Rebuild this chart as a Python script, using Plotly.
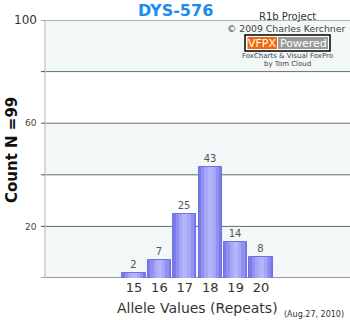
import plotly.graph_objects as go

alleles = [15, 16, 17, 18, 19, 20]
counts = [2, 7, 25, 43, 14, 8]
y_label_vals = [100, 60, 20]
grid_vals = [0, 20, 40, 60, 80, 100]
band_ranges = [(0, 20), (40, 60), (80, 100)]

W, H = 350, 320
L, R, T, B = 45, 0, 20, 42
pw, ph = W - L - R, H - T - B

def px(x):
    return (x - L) / pw

def py(y):
    return (H - B - y) / ph

FONT = "DejaVu Sans"
fig = go.Figure()

# fake gradient bars: layered
layers = [(0.92, "#7b7be8", "#7070e4"), (0.72, "#9090f2", None), (0.45, "#a6a6f7", None), (0.2, "#b4b4fa", None)]
for i, (w, c, lc) in enumerate(layers):
    fig.add_trace(go.Bar(
        x=alleles, y=counts, width=w,
        marker=dict(color=c, line=dict(color=lc or c, width=1 if lc else 0)),
        text=[str(v) for v in counts] if i == 0 else None,
        textposition="outside", cliponaxis=False,
        textfont=dict(family=FONT, size=10, color="#555555"),
        hoverinfo="skip", showlegend=False,
    ))

shapes = []
for a_, b_ in band_ranges:
    shapes.append(dict(type="rect", xref="paper", yref="y", x0=0, x1=1, y0=a_, y1=b_,
                       fillcolor="#f2f7f8", line=dict(width=0), layer="below"))
for v in grid_vals:
    shapes.append(dict(type="line", xref="paper", yref="y", x0=0, x1=1, y0=v, y1=v,
                       line=dict(color="#999999" if v == 0 else "#6a6a6a", width=2 if v == 0 else 1),
                       layer="below"))
    shapes.append(dict(type="line", xref="paper", yref="y", x0=px(41), x1=0, y0=v, y1=v,
                       line=dict(color="#555555", width=1)))
shapes.append(dict(type="line", xref="paper", yref="paper", x0=0, x1=0, y0=0, y1=1,
                   line=dict(color="#cccccc", width=1.5), layer="below"))
# badge
shapes.append(dict(type="rect", xref="paper", yref="paper", x0=px(245), x1=px(330), y0=py(51), y1=py(35),
                   fillcolor="#ffffff", line=dict(color="#000000", width=1.5)))
shapes.append(dict(type="rect", xref="paper", yref="paper", x0=px(247.5), x1=px(277), y0=py(49), y1=py(37),
                   fillcolor="#f26a10", line=dict(width=0)))
shapes.append(dict(type="rect", xref="paper", yref="paper", x0=px(278), x1=px(328), y0=py(49), y1=py(37),
                   fillcolor="#9a9a9a", line=dict(width=0)))

ann = []
def a(text, x, y, size, color="#333333", bold=False, xanchor="center", angle=0):
    ann.append(dict(text=f"<b>{text}</b>" if bold else text, x=px(x), y=py(y), xref="paper", yref="paper",
                    showarrow=False, xanchor=xanchor, yanchor="middle", textangle=angle,
                    font=dict(family=FONT, size=size, color=color)))

a("DYS-576", 175, 11, 16, "#1a8cf0", True)
a("Count N =99", 12, 150, 15, "#111111", True, angle=-90)
a("Allele Values (Repeats)", 197, 308, 14, "#333333")
a("(Aug.27, 2010)", 314, 314, 8, "#333333")
a("R1b Project", 287, 17, 10, "#333333")
a("© 2009 Charles Kerchner", 286, 28, 9.3, "#444444")
a("VFPX", 262, 43, 11, "#ffffff")
a("Powered", 303, 43, 11, "#ffffff")
a("FoxCharts & Visual FoxPro", 287, 56, 7, "#444444")
a("by Tom Cloud", 287, 64, 7, "#444444")
a("100", 39, 20, 12, "#333333", xanchor="right")
a("60", 39, 123, 9, "#444444", xanchor="right")
a("20", 39, 227, 9, "#444444", xanchor="right")

fig.update_layout(
    width=W, height=H, margin=dict(l=L, r=R, t=T, b=B),
    paper_bgcolor="white", plot_bgcolor="white",
    barmode="overlay", bargap=0,
    shapes=shapes, annotations=ann,
    xaxis=dict(range=[11.5, 23.5], tickvals=alleles, ticktext=[str(v) for v in alleles],
               showgrid=False, zeroline=False, showline=False, ticks="",
               tickfont=dict(family=FONT, size=13, color="#333333")),
    yaxis=dict(range=[0, 100], showgrid=False, zeroline=False, showline=False,
               showticklabels=False, ticks=""),
)
fig.write_html("out.html")
